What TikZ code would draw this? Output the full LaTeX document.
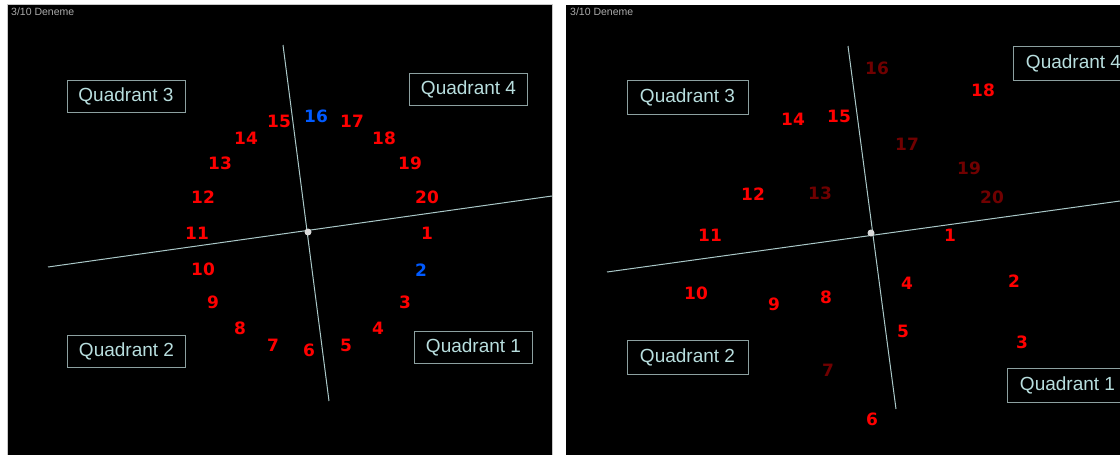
\documentclass[tikz,border=0pt]{standalone}
\usepackage{fontspec}
\setmainfont{Liberation Sans}
\newfontfamily\numfont{DejaVu Sans}
\definecolor{numred}{RGB}{255,0,0}
\definecolor{numblue}{RGB}{0,90,255}
\definecolor{numdark}{RGB}{112,0,0}
\definecolor{axisline}{RGB}{170,200,200}
\definecolor{boxline}{RGB}{140,160,160}
\definecolor{boxtext}{RGB}{184,222,222}
\definecolor{titletext}{RGB}{170,170,170}
\definecolor{paneledge}{RGB}{200,200,200}
\tikzset{
  num/.style={font=\numfont\bfseries\fontsize{17}{17}\selectfont, text=numred, inner sep=0pt},
  numb/.style={num, text=numblue},
  numd/.style={num, text=numdark},
  quad/.style={draw=boxline, line width=1pt, text=boxtext, font=\fontsize{19}{19}\selectfont,
    minimum width=118pt, minimum height=32pt, inner sep=0pt},
  quadr/.style={quad, minimum width=121pt, minimum height=34pt},
  axis/.style={draw=axisline, line width=1pt},
  centredot/.style={circle, fill=black!15, minimum size=7pt, inner sep=0pt},
  ttl/.style={text=titletext, font=\fontsize{10.5}{10.5}\selectfont, anchor=west, inner sep=0pt}
}
\begin{document}
\begin{tikzpicture}[x=1pt,y=-1pt]
\useasboundingbox (0,0) rectangle (1120,455);
\fill[white] (0,0) rectangle (1120,455);
\fill[paneledge] (7,4) rectangle (553,455);
\fill[black] (8,5) rectangle (552,455);
\fill[black] (566,5) rectangle (1120,455);

% ---------- left panel ----------
\node[ttl] (t1) at (11,12) {3/10 Deneme};
\coordinate (lh1) at (48,267);
\coordinate (lh2) at (552,196);
\coordinate (lv1) at (283,45);
\coordinate (lv2) at (329,401);
\draw[axis] (lh1) -- (lh2);
\draw[axis] (lv1) -- (lv2);
\node[centredot] (lc) at (308,232) {};

\node[quad] (lq3) at (126,96) {Quadrant 3};
\node[quad] (lq4) at (468.5,89) {Quadrant 4};
\node[quad] (lq2) at (126.5,351) {Quadrant 2};
\node[quad] (lq1) at (473.5,347) {Quadrant 1};

\node[num]  (l1)  at (427,233) {1};
\node[numb] (l2)  at (421,270) {2};
\node[num]  (l3)  at (405,302) {3};
\node[num]  (l4)  at (378,328) {4};
\node[num]  (l5)  at (346,345) {5};
\node[num]  (l6)  at (309,350) {6};
\node[num]  (l7)  at (273,345) {7};
\node[num]  (l8)  at (240,328) {8};
\node[num]  (l9)  at (213,302) {9};
\node[num]  (l10) at (203,269) {10};
\node[num]  (l11) at (197,233) {11};
\node[num]  (l12) at (203,197) {12};
\node[num]  (l13) at (220,163) {13};
\node[num]  (l14) at (246,138) {14};
\node[num]  (l15) at (279,121) {15};
\node[numb] (l16) at (316,116) {16};
\node[num]  (l17) at (352,121) {17};
\node[num]  (l18) at (384,138) {18};
\node[num]  (l19) at (410,163) {19};
\node[num]  (l20) at (427,197) {20};

% ---------- right panel ----------
\begin{scope}
\clip (566,5) rectangle (1120,455);
\node[ttl] (t2) at (570,12) {3/10 Deneme};
\coordinate (rh1) at (607,272);
\coordinate (rh2) at (1120,201);
\coordinate (rv1) at (848,46);
\coordinate (rv2) at (896,409);
\draw[axis] (rh1) -- (rh2);
\draw[axis] (rv1) -- (rv2);
\node[centredot] (rc) at (871,233) {};

\node[quadr] (rq3) at (687.5,97.5) {Quadrant 3};
\node[quadr] (rq2) at (687.5,357.5) {Quadrant 2};
\node[quadr] (rq4) at (1073.5,63) {Quadrant 4};
\node[quadr] (rq1) at (1067.5,385) {Quadrant 1};

\node[num]  (r1)  at (950,235) {1};
\node[num]  (r2)  at (1014,281) {2};
\node[num]  (r3)  at (1022,342) {3};
\node[num]  (r4)  at (907,283) {4};
\node[num]  (r5)  at (903,331) {5};
\node[num]  (r6)  at (872,419) {6};
\node[numd] (r7)  at (828,370) {7};
\node[num]  (r8)  at (826,297) {8};
\node[num]  (r9)  at (774,304) {9};
\node[num]  (r10) at (696,293) {10};
\node[num]  (r11) at (710,235) {11};
\node[num]  (r12) at (753,194) {12};
\node[numd] (r13) at (820,193) {13};
\node[num]  (r14) at (793,119) {14};
\node[num]  (r15) at (839,116) {15};
\node[numd] (r16) at (877,68) {16};
\node[numd] (r17) at (907,144) {17};
\node[num]  (r18) at (983,90) {18};
\node[numd] (r19) at (969,168) {19};
\node[numd] (r20) at (992,197) {20};
\end{scope}
\end{tikzpicture}
\end{document}
